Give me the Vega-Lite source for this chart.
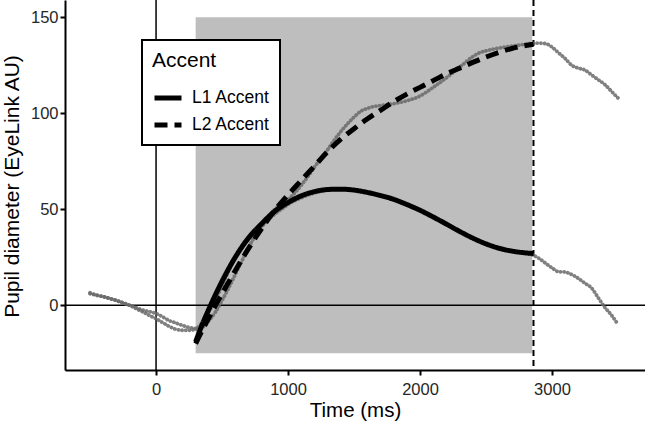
{
  "$schema": "https://vega.github.io/schema/vega-lite/v6.json",
  "width": 580,
  "height": 370,
  "autosize": {"type": "none"},
  "padding": {"left": 65, "top": 0, "right": 0, "bottom": 53},
  "background": "white",
  "config": {
    "font": "Liberation Sans",
    "view": {"stroke": null},
    "axis": {
      "grid": false,
      "domainColor": "black",
      "domainWidth": 2,
      "tickColor": "black",
      "tickWidth": 2,
      "tickSize": 5,
      "labelFontSize": 16.5,
      "labelColor": "#262626",
      "titleFontSize": 20.5,
      "titleFontWeight": "normal",
      "titleColor": "black"
    },
    "legend": {
      "orient": "none",
      "legendX": 77,
      "legendY": 40,
      "strokeColor": "black",
      "strokeWidth": 2,
      "fillColor": "white",
      "padding": 10,
      "titleFontSize": 21,
      "titleFontWeight": "normal",
      "titleColor": "black",
      "titlePadding": 11,
      "labelFontSize": 17.5,
      "labelColor": "black",
      "labelOffset": 8,
      "rowPadding": 1,
      "symbolType": "stroke",
      "symbolSize": 729,
      "symbolStrokeWidth": 5,
      "symbolStrokeColor": "black"
    }
  },
  "datasets": {
    "shade": [{"x": 300, "xend": 2850, "y": -25, "yend": 150}],
    "raw": [
      {"x": -500, "y": 6, "accent": "L1 Accent"},
      {"x": -450, "y": 5.2, "accent": "L1 Accent"},
      {"x": -400, "y": 4.5, "accent": "L1 Accent"},
      {"x": -350, "y": 3.5, "accent": "L1 Accent"},
      {"x": -300, "y": 2.5, "accent": "L1 Accent"},
      {"x": -250, "y": 1.3, "accent": "L1 Accent"},
      {"x": -200, "y": 0, "accent": "L1 Accent"},
      {"x": -150, "y": -1.2, "accent": "L1 Accent"},
      {"x": -100, "y": -2.5, "accent": "L1 Accent"},
      {"x": -50, "y": -3.3, "accent": "L1 Accent"},
      {"x": 0, "y": -4.3, "accent": "L1 Accent"},
      {"x": 50, "y": -6, "accent": "L1 Accent"},
      {"x": 100, "y": -8, "accent": "L1 Accent"},
      {"x": 150, "y": -9.2, "accent": "L1 Accent"},
      {"x": 200, "y": -10.5, "accent": "L1 Accent"},
      {"x": 250, "y": -11.5, "accent": "L1 Accent"},
      {"x": 300, "y": -12, "accent": "L1 Accent"},
      {"x": 350, "y": -9, "accent": "L1 Accent"},
      {"x": 400, "y": -3.5, "accent": "L1 Accent"},
      {"x": 450, "y": 3, "accent": "L1 Accent"},
      {"x": 500, "y": 10, "accent": "L1 Accent"},
      {"x": 550, "y": 18, "accent": "L1 Accent"},
      {"x": 600, "y": 25, "accent": "L1 Accent"},
      {"x": 650, "y": 31, "accent": "L1 Accent"},
      {"x": 700, "y": 35.5, "accent": "L1 Accent"},
      {"x": 750, "y": 38, "accent": "L1 Accent"},
      {"x": 800, "y": 41, "accent": "L1 Accent"},
      {"x": 850, "y": 44.5, "accent": "L1 Accent"},
      {"x": 900, "y": 47.5, "accent": "L1 Accent"},
      {"x": 950, "y": 50, "accent": "L1 Accent"},
      {"x": 1000, "y": 52.5, "accent": "L1 Accent"},
      {"x": 1100, "y": 56, "accent": "L1 Accent"},
      {"x": 1200, "y": 58.5, "accent": "L1 Accent"},
      {"x": 1300, "y": 60, "accent": "L1 Accent"},
      {"x": 1400, "y": 60.5, "accent": "L1 Accent"},
      {"x": 1500, "y": 60, "accent": "L1 Accent"},
      {"x": 1600, "y": 58.8, "accent": "L1 Accent"},
      {"x": 1700, "y": 57, "accent": "L1 Accent"},
      {"x": 1800, "y": 55, "accent": "L1 Accent"},
      {"x": 1900, "y": 52.5, "accent": "L1 Accent"},
      {"x": 2000, "y": 49.5, "accent": "L1 Accent"},
      {"x": 2100, "y": 46, "accent": "L1 Accent"},
      {"x": 2200, "y": 42, "accent": "L1 Accent"},
      {"x": 2300, "y": 38.5, "accent": "L1 Accent"},
      {"x": 2400, "y": 35, "accent": "L1 Accent"},
      {"x": 2500, "y": 32, "accent": "L1 Accent"},
      {"x": 2600, "y": 29.5, "accent": "L1 Accent"},
      {"x": 2700, "y": 28, "accent": "L1 Accent"},
      {"x": 2800, "y": 27, "accent": "L1 Accent"},
      {"x": 2860, "y": 26, "accent": "L1 Accent"},
      {"x": 2900, "y": 24.5, "accent": "L1 Accent"},
      {"x": 2950, "y": 22, "accent": "L1 Accent"},
      {"x": 3000, "y": 19.5, "accent": "L1 Accent"},
      {"x": 3050, "y": 17.5, "accent": "L1 Accent"},
      {"x": 3100, "y": 17.3, "accent": "L1 Accent"},
      {"x": 3150, "y": 16, "accent": "L1 Accent"},
      {"x": 3200, "y": 14, "accent": "L1 Accent"},
      {"x": 3250, "y": 11.5, "accent": "L1 Accent"},
      {"x": 3300, "y": 9, "accent": "L1 Accent"},
      {"x": 3350, "y": 4, "accent": "L1 Accent"},
      {"x": 3400, "y": -1, "accent": "L1 Accent"},
      {"x": 3450, "y": -5, "accent": "L1 Accent"},
      {"x": 3500, "y": -10, "accent": "L1 Accent"},
      {"x": -500, "y": 6.5, "accent": "L2 Accent"},
      {"x": -450, "y": 5.3, "accent": "L2 Accent"},
      {"x": -400, "y": 4.5, "accent": "L2 Accent"},
      {"x": -350, "y": 3.5, "accent": "L2 Accent"},
      {"x": -300, "y": 2.5, "accent": "L2 Accent"},
      {"x": -250, "y": 1.2, "accent": "L2 Accent"},
      {"x": -200, "y": 0, "accent": "L2 Accent"},
      {"x": -150, "y": -1.8, "accent": "L2 Accent"},
      {"x": -100, "y": -3.5, "accent": "L2 Accent"},
      {"x": -50, "y": -5.3, "accent": "L2 Accent"},
      {"x": 0, "y": -7, "accent": "L2 Accent"},
      {"x": 50, "y": -9, "accent": "L2 Accent"},
      {"x": 100, "y": -11, "accent": "L2 Accent"},
      {"x": 150, "y": -12.5, "accent": "L2 Accent"},
      {"x": 200, "y": -13, "accent": "L2 Accent"},
      {"x": 250, "y": -13, "accent": "L2 Accent"},
      {"x": 300, "y": -12.5, "accent": "L2 Accent"},
      {"x": 350, "y": -11.5, "accent": "L2 Accent"},
      {"x": 400, "y": -8, "accent": "L2 Accent"},
      {"x": 450, "y": -3.5, "accent": "L2 Accent"},
      {"x": 500, "y": 2.5, "accent": "L2 Accent"},
      {"x": 550, "y": 9, "accent": "L2 Accent"},
      {"x": 600, "y": 16, "accent": "L2 Accent"},
      {"x": 650, "y": 23, "accent": "L2 Accent"},
      {"x": 700, "y": 30, "accent": "L2 Accent"},
      {"x": 750, "y": 36, "accent": "L2 Accent"},
      {"x": 800, "y": 41.5, "accent": "L2 Accent"},
      {"x": 850, "y": 46, "accent": "L2 Accent"},
      {"x": 900, "y": 50, "accent": "L2 Accent"},
      {"x": 950, "y": 52.5, "accent": "L2 Accent"},
      {"x": 1000, "y": 55, "accent": "L2 Accent"},
      {"x": 1050, "y": 58.5, "accent": "L2 Accent"},
      {"x": 1100, "y": 62.5, "accent": "L2 Accent"},
      {"x": 1150, "y": 67, "accent": "L2 Accent"},
      {"x": 1200, "y": 72, "accent": "L2 Accent"},
      {"x": 1250, "y": 76.5, "accent": "L2 Accent"},
      {"x": 1300, "y": 81, "accent": "L2 Accent"},
      {"x": 1350, "y": 86, "accent": "L2 Accent"},
      {"x": 1400, "y": 90.5, "accent": "L2 Accent"},
      {"x": 1450, "y": 94.5, "accent": "L2 Accent"},
      {"x": 1500, "y": 98, "accent": "L2 Accent"},
      {"x": 1550, "y": 101, "accent": "L2 Accent"},
      {"x": 1600, "y": 102.5, "accent": "L2 Accent"},
      {"x": 1650, "y": 103.5, "accent": "L2 Accent"},
      {"x": 1700, "y": 104, "accent": "L2 Accent"},
      {"x": 1800, "y": 105, "accent": "L2 Accent"},
      {"x": 1900, "y": 106.5, "accent": "L2 Accent"},
      {"x": 2000, "y": 109, "accent": "L2 Accent"},
      {"x": 2100, "y": 113.5, "accent": "L2 Accent"},
      {"x": 2200, "y": 118.5, "accent": "L2 Accent"},
      {"x": 2300, "y": 124, "accent": "L2 Accent"},
      {"x": 2400, "y": 129.5, "accent": "L2 Accent"},
      {"x": 2450, "y": 131.5, "accent": "L2 Accent"},
      {"x": 2500, "y": 132.5, "accent": "L2 Accent"},
      {"x": 2600, "y": 134, "accent": "L2 Accent"},
      {"x": 2700, "y": 135, "accent": "L2 Accent"},
      {"x": 2800, "y": 136, "accent": "L2 Accent"},
      {"x": 2900, "y": 136.5, "accent": "L2 Accent"},
      {"x": 2950, "y": 136.3, "accent": "L2 Accent"},
      {"x": 3000, "y": 134.5, "accent": "L2 Accent"},
      {"x": 3050, "y": 131.5, "accent": "L2 Accent"},
      {"x": 3100, "y": 128.5, "accent": "L2 Accent"},
      {"x": 3150, "y": 125, "accent": "L2 Accent"},
      {"x": 3200, "y": 123.5, "accent": "L2 Accent"},
      {"x": 3250, "y": 122.5, "accent": "L2 Accent"},
      {"x": 3300, "y": 120, "accent": "L2 Accent"},
      {"x": 3350, "y": 117.5, "accent": "L2 Accent"},
      {"x": 3400, "y": 115, "accent": "L2 Accent"},
      {"x": 3450, "y": 111.5, "accent": "L2 Accent"},
      {"x": 3500, "y": 108, "accent": "L2 Accent"}
    ],
    "fit": [
      {"x": 300, "y": -19, "accent": "L1 Accent"},
      {"x": 350, "y": -10, "accent": "L1 Accent"},
      {"x": 400, "y": -2, "accent": "L1 Accent"},
      {"x": 450, "y": 5.5, "accent": "L1 Accent"},
      {"x": 500, "y": 12.5, "accent": "L1 Accent"},
      {"x": 600, "y": 25, "accent": "L1 Accent"},
      {"x": 700, "y": 35, "accent": "L1 Accent"},
      {"x": 800, "y": 42.5, "accent": "L1 Accent"},
      {"x": 900, "y": 49, "accent": "L1 Accent"},
      {"x": 1000, "y": 53.5, "accent": "L1 Accent"},
      {"x": 1100, "y": 57, "accent": "L1 Accent"},
      {"x": 1200, "y": 59.2, "accent": "L1 Accent"},
      {"x": 1300, "y": 60.3, "accent": "L1 Accent"},
      {"x": 1400, "y": 60.5, "accent": "L1 Accent"},
      {"x": 1500, "y": 60, "accent": "L1 Accent"},
      {"x": 1600, "y": 58.8, "accent": "L1 Accent"},
      {"x": 1700, "y": 57.2, "accent": "L1 Accent"},
      {"x": 1800, "y": 55.2, "accent": "L1 Accent"},
      {"x": 1900, "y": 52.5, "accent": "L1 Accent"},
      {"x": 2000, "y": 49.5, "accent": "L1 Accent"},
      {"x": 2100, "y": 46, "accent": "L1 Accent"},
      {"x": 2200, "y": 42.3, "accent": "L1 Accent"},
      {"x": 2300, "y": 38.5, "accent": "L1 Accent"},
      {"x": 2400, "y": 35, "accent": "L1 Accent"},
      {"x": 2500, "y": 32, "accent": "L1 Accent"},
      {"x": 2600, "y": 29.7, "accent": "L1 Accent"},
      {"x": 2700, "y": 28.2, "accent": "L1 Accent"},
      {"x": 2800, "y": 27.3, "accent": "L1 Accent"},
      {"x": 2860, "y": 27, "accent": "L1 Accent"},
      {"x": 300, "y": -20, "accent": "L2 Accent"},
      {"x": 350, "y": -13, "accent": "L2 Accent"},
      {"x": 400, "y": -6.5, "accent": "L2 Accent"},
      {"x": 450, "y": 0, "accent": "L2 Accent"},
      {"x": 500, "y": 6, "accent": "L2 Accent"},
      {"x": 600, "y": 18, "accent": "L2 Accent"},
      {"x": 700, "y": 29.5, "accent": "L2 Accent"},
      {"x": 800, "y": 40, "accent": "L2 Accent"},
      {"x": 900, "y": 49.5, "accent": "L2 Accent"},
      {"x": 1000, "y": 57.5, "accent": "L2 Accent"},
      {"x": 1100, "y": 65, "accent": "L2 Accent"},
      {"x": 1200, "y": 72.5, "accent": "L2 Accent"},
      {"x": 1300, "y": 80, "accent": "L2 Accent"},
      {"x": 1400, "y": 86.5, "accent": "L2 Accent"},
      {"x": 1500, "y": 92, "accent": "L2 Accent"},
      {"x": 1600, "y": 97, "accent": "L2 Accent"},
      {"x": 1700, "y": 101.5, "accent": "L2 Accent"},
      {"x": 1800, "y": 106, "accent": "L2 Accent"},
      {"x": 1900, "y": 110, "accent": "L2 Accent"},
      {"x": 2000, "y": 113.5, "accent": "L2 Accent"},
      {"x": 2100, "y": 117, "accent": "L2 Accent"},
      {"x": 2200, "y": 120.5, "accent": "L2 Accent"},
      {"x": 2300, "y": 123.5, "accent": "L2 Accent"},
      {"x": 2400, "y": 126.5, "accent": "L2 Accent"},
      {"x": 2500, "y": 129.3, "accent": "L2 Accent"},
      {"x": 2600, "y": 131.8, "accent": "L2 Accent"},
      {"x": 2700, "y": 133.8, "accent": "L2 Accent"},
      {"x": 2800, "y": 135.3, "accent": "L2 Accent"},
      {"x": 2860, "y": 136, "accent": "L2 Accent"}
    ]
  },
  "layer": [
    {
      "data": {"name": "shade"},
      "mark": {"type": "rect", "color": "#bebebe"},
      "encoding": {
        "x": {"field": "x", "type": "quantitative", "scale": {"domain": [-690, 3705], "nice": false, "zero": false}, "axis": {"values": [0, 1000, 2000, 3000], "format": "d", "title": "Time (ms)", "labelPadding": 6, "titlePadding": 3}},
        "x2": {"field": "xend"},
        "y": {"field": "y", "type": "quantitative", "scale": {"domain": [-33.7, 159], "nice": false, "zero": false}, "axis": {"values": [0, 50, 100, 150], "format": "d", "title": "Pupil diameter (EyeLink AU)", "titleFontSize": 21, "labelPadding": 2, "titleX": -43, "titleY": 186}},
        "y2": {"field": "yend"}
      }
    },
    {
      "data": {"values": [{"y": 0}]},
      "mark": {"type": "rule", "color": "black", "strokeWidth": 1.5},
      "encoding": {"y": {"field": "y", "type": "quantitative"}}
    },
    {
      "data": {"values": [{"x": 0}]},
      "mark": {"type": "rule", "color": "black", "strokeWidth": 1.5},
      "encoding": {"x": {"field": "x", "type": "quantitative"}}
    },
    {
      "data": {"values": [{"x": 2860}]},
      "mark": {"type": "rule", "color": "black", "strokeWidth": 2, "strokeDash": [6, 4]},
      "encoding": {"x": {"field": "x", "type": "quantitative"}}
    },
    {
      "data": {"name": "raw"},
      "mark": {"type": "line", "color": "#6a6a6a", "opacity": 0.85, "strokeWidth": 3.8, "strokeCap": "round", "strokeDash": [0.1, 3.6], "interpolate": "monotone"},
      "encoding": {
        "x": {"field": "x", "type": "quantitative"},
        "y": {"field": "y", "type": "quantitative"},
        "detail": {"field": "accent"}
      }
    },
    {
      "data": {"name": "fit"},
      "mark": {"type": "line", "color": "black", "strokeWidth": 5, "interpolate": "monotone"},
      "encoding": {
        "x": {"field": "x", "type": "quantitative"},
        "y": {"field": "y", "type": "quantitative"},
        "strokeDash": {"field": "accent", "type": "nominal", "title": "Accent", "scale": {"domain": ["L1 Accent", "L2 Accent"], "range": [[1, 0], [13, 7]]}}
      }
    }
  ]
}
